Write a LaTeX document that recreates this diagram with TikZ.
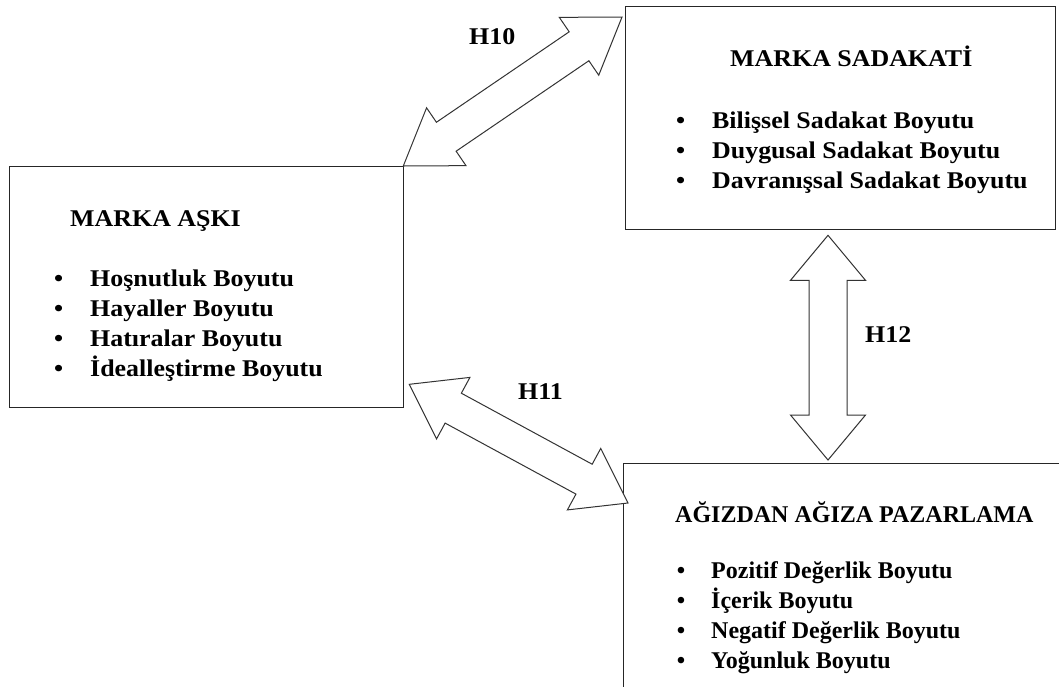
\documentclass[tikz,border=0pt]{standalone}
\usepackage{fontspec}
\setmainfont{Liberation Serif}[FakeStretch=1.08]
\newfontfamily\plainserif{Liberation Serif}
\usetikzlibrary{calc}

% double-headed block arrow between two points:
% #1 start, #2 end, #3 head length, #4 head half width, #5 shaft half width
\newcommand{\twowayarrow}[5]{%
  \draw[blockarrow] (#1)
    -- ($(#1)!#3!(#2)!#4!90:(#2)$)
    -- ($(#1)!#3!(#2)!#5!90:(#2)$)
    -- ($(#2)!#3!(#1)!#5!-90:(#1)$)
    -- ($(#2)!#3!(#1)!#4!-90:(#1)$)
    -- (#2)
    -- ($(#2)!#3!(#1)!#4!90:(#1)$)
    -- ($(#2)!#3!(#1)!#5!90:(#1)$)
    -- ($(#1)!#3!(#2)!#5!-90:(#2)$)
    -- ($(#1)!#3!(#2)!#4!-90:(#2)$)
    -- cycle;}

\newcommand{\itemdot}[1]{\llap{•\hspace{#1}}}

\tikzset{
  panel/.style={draw=black!85, line width=1.3pt, inner sep=0pt, anchor=north west},
  boldtext/.style={anchor=base west, inner sep=0pt, text=black,
    font=\bfseries\fontsize{24}{30}\selectfont},
  narrowtext/.style={anchor=base west, inner sep=0pt, text=black,
    font=\plainserif\bfseries\fontsize{24}{30}\selectfont},
  blockarrow/.style={draw=black!80, line width=1pt, fill=white, line join=miter},
}

\begin{document}
\begin{tikzpicture}[x=1pt, y=-1pt]
  \useasboundingbox (0,0) rectangle (1059,686);
  \clip (0,0) rectangle (1059,686);
  \fill[white] (0,0) rectangle (1059,686);

  % the three construct boxes
  \node[panel, minimum width=394pt, minimum height=241pt] (aski) at (9,166) {};
  \node[panel, minimum width=430pt, minimum height=223pt] (sadakat) at (625,6) {};
  \node[panel, minimum width=500pt, minimum height=320pt] (wom) at (623,463) {};

  % MARKA AŞKI
  \node[boldtext] (askiTitle) at (70,226) {MARKA AŞKI};
  \node[boldtext] (askiList) at (90,286) {\begin{tabular}[t]{@{}l@{}}
      \itemdot{27pt}Hoşnutluk Boyutu\\
      \itemdot{27pt}Hayaller Boyutu\\
      \itemdot{27pt}Hatıralar Boyutu\\
      \itemdot{27pt}İdealleştirme Boyutu
    \end{tabular}};

  % MARKA SADAKATİ
  \node[boldtext] (sadakatTitle) at (730,66) {MARKA SADAKATİ};
  \node[boldtext] (sadakatList) at (712,128) {\begin{tabular}[t]{@{}l@{}}
      \itemdot{27pt}Bilişsel Sadakat Boyutu\\
      \itemdot{27pt}Duygusal Sadakat Boyutu\\
      \itemdot{27pt}Davranışsal Sadakat Boyutu
    \end{tabular}};

  % AĞIZDAN AĞIZA PAZARLAMA
  \node[narrowtext] (womTitle) at (675,522) {AĞIZDAN AĞIZA PAZARLAMA};
  \node[narrowtext] (womList) at (711,578) {\begin{tabular}[t]{@{}l@{}}
      \itemdot{26pt}Pozitif Değerlik Boyutu\\
      \itemdot{26pt}İçerik Boyutu\\
      \itemdot{26pt}Negatif Değerlik Boyutu\\
      \itemdot{26pt}Yoğunluk Boyutu
    \end{tabular}};

  % arrow end points
  \coordinate (h10a) at ($(aski.north east)+(-1,0)$);
  \coordinate (h10b) at ($(sadakat.north west)+(-3,11)$);
  \coordinate (h11a) at ($(aski.south east)+(5,-24)$);
  \coordinate (h11b) at ($(wom.north west)+(5,40)$);
  \coordinate (h12a) at ($(sadakat.south west)+(203,5)$);
  \coordinate (h12b) at ($(wom.north west)+(205,-3)$);

  % hypothesis arrows
  \twowayarrow{h10a}{h10b}{52pt}{35pt}{17.5pt}
  \twowayarrow{h11a}{h11b}{50pt}{35pt}{17pt}
  \twowayarrow{h12a}{h12b}{45pt}{37.5pt}{19pt}

  % hypothesis labels
  \node[boldtext] (lab10) at (469,44) {H10};
  \node[boldtext] (lab11) at (518,399) {H11};
  \node[boldtext] (lab12) at (865,342) {H12};
\end{tikzpicture}
\end{document}
